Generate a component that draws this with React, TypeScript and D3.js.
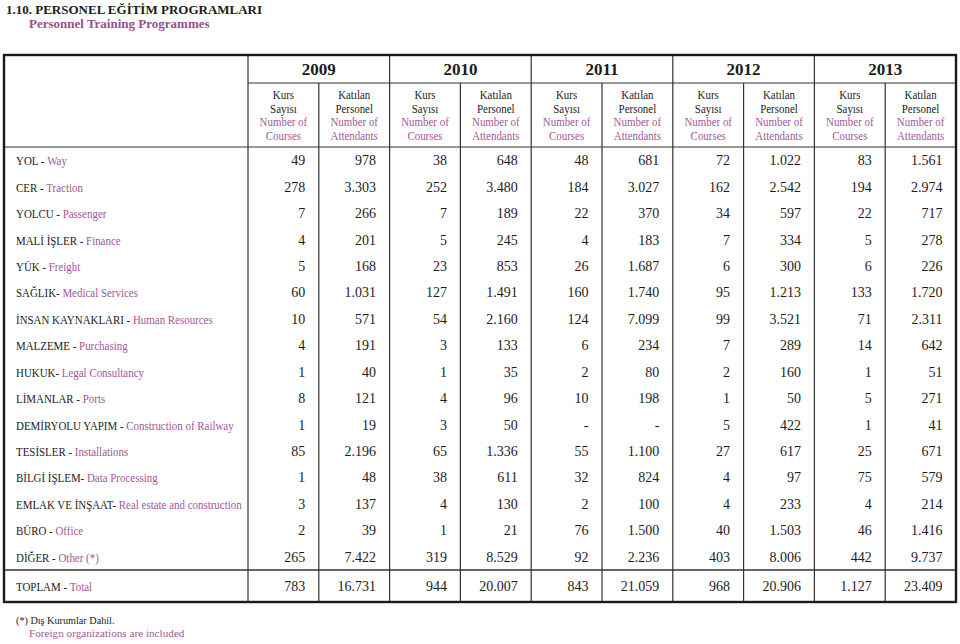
import React from "react";
import * as d3 from "d3";

const years = ["2009", "2010", "2011", "2012", "2013"];

const labelsTR = [
  "YOL - ", "CER - ", "YOLCU - ", "MALİ İŞLER - ", "YÜK - ", "SAĞLIK- ",
  "İNSAN KAYNAKLARI - ", "MALZEME - ", "HUKUK- ", "LİMANLAR - ",
  "DEMİRYOLU YAPIM - ", "TESİSLER - ", "BİLGİ İŞLEM- ", "EMLAK VE İNŞAAT- ",
  "BÜRO - ", "DİĞER - ",
];
const labelsEN = [
  "Way", "Traction", "Passenger", "Finance", "Freight", "Medical Services",
  "Human Resources", "Purchasing", "Legal Consultancy", "Ports",
  "Construction of Railway", "Installations", "Data Processing",
  "Real estate and construction", "Office", "Other (*)",
];
const totalTR = "TOPLAM - ";
const totalEN = "Total";

const courses2009 = ["49", "278", "7", "4", "5", "60", "10", "4", "1", "8", "1", "85", "1", "3", "2", "265"];
const attend2009 = ["978", "3.303", "266", "201", "168", "1.031", "571", "191", "40", "121", "19", "2.196", "48", "137", "39", "7.422"];
const courses2010 = ["38", "252", "7", "5", "23", "127", "54", "3", "1", "4", "3", "65", "38", "4", "1", "319"];
const attend2010 = ["648", "3.480", "189", "245", "853", "1.491", "2.160", "133", "35", "96", "50", "1.336", "611", "130", "21", "8.529"];
const courses2011 = ["48", "184", "22", "4", "26", "160", "124", "6", "2", "10", "-", "55", "32", "2", "76", "92"];
const attend2011 = ["681", "3.027", "370", "183", "1.687", "1.740", "7.099", "234", "80", "198", "-", "1.100", "824", "100", "1.500", "2.236"];
const courses2012 = ["72", "162", "34", "7", "6", "95", "99", "7", "2", "1", "5", "27", "4", "4", "40", "403"];
const attend2012 = ["1.022", "2.542", "597", "334", "300", "1.213", "3.521", "289", "160", "50", "422", "617", "97", "233", "1.503", "8.006"];
const courses2013 = ["83", "194", "22", "5", "6", "133", "71", "14", "1", "5", "1", "25", "75", "4", "46", "442"];
const attend2013 = ["1.561", "2.974", "717", "278", "226", "1.720", "2.311", "642", "51", "271", "41", "671", "579", "214", "1.416", "9.737"];

const totalCourses = ["783", "944", "843", "968", "1.127"];
const totalAttend = ["16.731", "20.007", "21.059", "20.906", "23.409"];

const courseHeadTR = ["Kurs", "Sayısı"];
const courseHeadEN = ["Number of", "Courses"];
const attendHeadTR = ["Katılan", "Personel"];
const attendHeadEN = ["Number of", "Attendants"];

const title = "1.10. PERSONEL EĞİTİM PROGRAMLARI";
const subtitle = "Personnel Training Programmes";
const foot1 = "(*) Dış Kurumlar Dahil.";
const foot2 = "Foreign organizations are included";

const PINK = "#a2579a";
const INK = "#1c1c1c";
const FONT = "'Liberation Serif', 'Times New Roman', serif";

export default function App() {
  const left = 4, right = 956, top = 55, bottom = 602;
  const catRight = 248;
  const yearBottom = 83, headBottom = 147, totalTop = 570;

  const columns: string[][] = [courses2009, attend2009, courses2010, attend2010, courses2011, attend2011, courses2012, attend2012, courses2013, attend2013];
  const colKeys = years.flatMap((y) => [y + "-c", y + "-a"]);
  const x = d3.scaleBand<string>().domain(colKeys).range([catRight, right]);
  const yx = d3.scaleBand<string>().domain(years).range([catRight, right]);
  const rows = d3.scaleBand<number>().domain(d3.range(labelsTR.length)).range([headBottom, totalTop]);
  const base = (i: number) => (rows(i) as number) + rows.bandwidth() / 2 + 5;
  const totalBase = (totalTop + bottom) / 2 + 5;
  const pad = 13.5;
  const headLines = d3.scaleLinear().domain([0, 3]).range([99, 140]);

  return (
    <svg width={960} height={644} style={{ position: "absolute", left: 0, top: 0, background: "#fff" }} fontFamily={FONT}>
      <rect width={960} height={644} fill="#fff" />
      <text x={6} y={14} fontSize={13} fontWeight="bold" fill={INK}>{title}</text>
      <text x={29} y={28} fontSize={13} fontWeight="bold" fill="#9a4d90">{subtitle}</text>

      {/* grid lines */}
      <g stroke="#333" strokeWidth={1.2} fill="none">
        <line x1={catRight} x2={catRight} y1={top} y2={bottom} />
        {years.slice(1).map((y) => (
          <line key={y} x1={yx(y)} x2={yx(y)} y1={top} y2={bottom} />
        ))}
        {years.map((y) => (
          <line key={y + "a"} x1={x(y + "-a")} x2={x(y + "-a")} y1={yearBottom} y2={bottom} />
        ))}
        <line x1={catRight} x2={right} y1={yearBottom} y2={yearBottom} />
        <line x1={left} x2={right} y1={headBottom} y2={headBottom} />
        <line x1={left} x2={right} y1={totalTop} y2={totalTop} strokeWidth={1.6} />
      </g>
      <rect x={left} y={top} width={right - left} height={bottom - top} fill="none" stroke="#1a1a1a" strokeWidth={2.4} />

      {/* year headers */}
      {years.map((y) => (
        <text key={y} x={(yx(y) as number) + yx.bandwidth() / 2} y={75} fontSize={17} fontWeight="bold" textAnchor="middle" fill={INK}>{y}</text>
      ))}

      {/* sub headers */}
      {colKeys.map((k, ci) => {
        const cx = (x(k) as number) + x.bandwidth() / 2;
        const isC = ci % 2 === 0;
        const tr = isC ? courseHeadTR : attendHeadTR;
        const en = isC ? courseHeadEN : attendHeadEN;
        const lines = [...tr.map((t) => [t, INK]), ...en.map((t) => [t, PINK])];
        return (
          <g key={k}>
            {lines.map(([t, c], li) => (
              <text key={li} transform={`translate(${cx},${headLines(li)}) scale(0.95,1)`} fontSize={11.5} textAnchor="middle" fill={c}>{t}</text>
            ))}
          </g>
        );
      })}

      {/* row labels */}
      {labelsTR.map((t, i) => (
        <text key={i} transform={`translate(16,${base(i)}) scale(0.81,1)`} fontSize={13.5} fill={INK}>
          <tspan>{t}</tspan>
          <tspan fill={PINK}>{labelsEN[i]}</tspan>
        </text>
      ))}
      <text transform={`translate(16,${totalBase}) scale(0.81,1)`} fontSize={13.5} fill={INK}>
        <tspan>{totalTR}</tspan>
        <tspan fill={PINK}>{totalEN}</tspan>
      </text>

      {/* values */}
      {columns.map((col, ci) => {
        const xr = (x(colKeys[ci]) as number) + x.bandwidth() - pad;
        return (
          <g key={ci}>
            {col.map((v, i) => (
              <text key={i} x={xr} y={base(i)} fontSize={14} textAnchor="end" fill={INK}>{v}</text>
            ))}
            <text x={xr} y={totalBase} fontSize={14} textAnchor="end" fill={INK}>
              {ci % 2 === 0 ? totalCourses[ci / 2] : totalAttend[(ci - 1) / 2]}
            </text>
          </g>
        );
      })}

      {/* footnote */}
      <text x={16} y={624} fontSize={10.2} fill={INK}>{foot1}</text>
      <text x={29} y={637} fontSize={11.2} fill={PINK}>{foot2}</text>
    </svg>
  );
}
